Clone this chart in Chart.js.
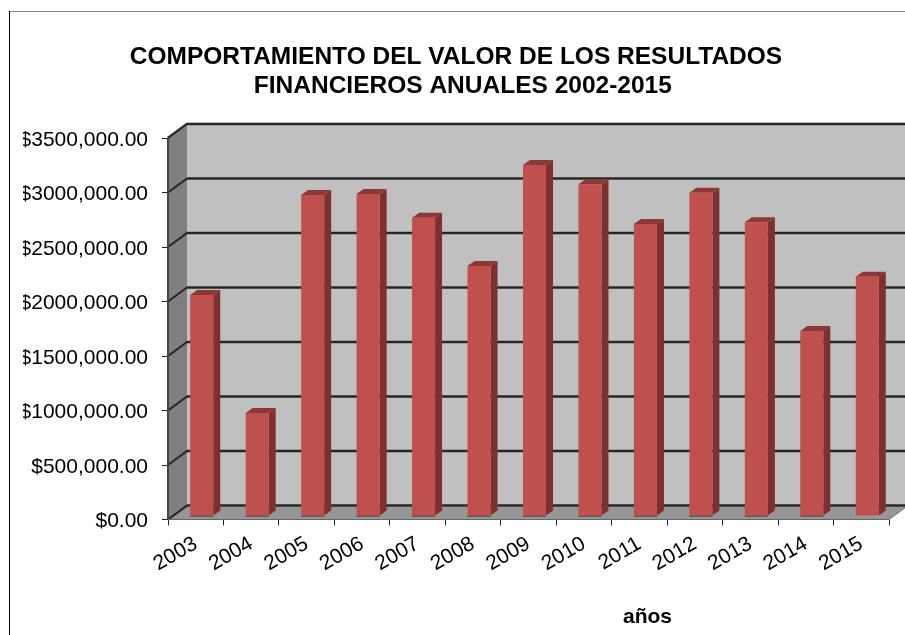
<!DOCTYPE html>
<html>
<head>
<meta charset="utf-8">
<title>Resultados financieros</title>
<style>
  html, body { margin: 0; padding: 0; background: #fff; }
  canvas { display: block; filter: blur(0.5px); }
</style>
<script src="https://cdn.jsdelivr.net/npm/chart.js@4/dist/chart.umd.min.js"></script>
</head>
<body>
<canvas id="myChart" width="905" height="635"></canvas>
<script>
const years = ['2003', '2004', '2005', '2006', '2007', '2008', '2009', '2010', '2011', '2012', '2013', '2014', '2015'];
const resultados = [2027000, 945000, 2945000, 2954000, 2737000, 2294000, 3220000, 3043000, 2679000, 2966000, 2694000, 1697000, 2195000];
const yTickLabels = ['$0.00', '$500,000.00', '$1000,000.00', '$1500,000.00', '$2000,000.00', '$2500,000.00', '$3000,000.00', '$3500,000.00'];
const titleLines = ['COMPORTAMIENTO DEL VALOR DE LOS RESULTADOS', '  FINANCIEROS ANUALES 2002-2015'];
const xTitle = 'años';

// depth of the fake 3d box and of the bars
const wallDx = 19, wallDy = 14;
const barShiftX = 6, barShiftY = 3.5;
const sideDx = 7, sideDy = 5;

function poly(ctx, pts, fill) {
  ctx.beginPath();
  pts.forEach((p, i) => i ? ctx.lineTo(p[0], p[1]) : ctx.moveTo(p[0], p[1]));
  ctx.closePath();
  ctx.fillStyle = fill;
  ctx.fill();
}

const box3d = {
  id: 'box3d',
  beforeDraw(chart) {
    // outer frame of the chart object
    const ctx = chart.ctx;
    ctx.save();
    ctx.fillStyle = '#888';
    ctx.fillRect(9, 11, 896, 1);
    ctx.fillStyle = '#000';
    ctx.fillRect(9, 11, 1, 624);
    ctx.restore();
  },
  beforeDatasetsDraw(chart) {
    const ctx = chart.ctx;
    const { left, right, top, bottom } = chart.chartArea;
    const y = chart.scales.y;

    ctx.save();
    poly(ctx, [[left + wallDx, top - wallDy], [right + wallDx, top - wallDy], [right + wallDx, bottom - wallDy], [left + wallDx, bottom - wallDy]], '#c0c0c0');
    poly(ctx, [[left, top], [left + wallDx, top - wallDy], [left + wallDx, bottom - wallDy], [left, bottom]], '#808080');
    poly(ctx, [[left, bottom], [left + wallDx, bottom - wallDy], [right + wallDx, bottom - wallDy], [right, bottom]], '#969696');

    // grid lines run along the side wall and across the back wall
    y.ticks.forEach(t => {
      const py = y.getPixelForValue(t.value);
      [['#777', 3.2], ['#262626', 1.8]].forEach(([color, w]) => {
        ctx.strokeStyle = color;
        ctx.lineWidth = w;
        ctx.beginPath();
        ctx.moveTo(left, py);
        ctx.lineTo(left + wallDx, py - wallDy);
        ctx.lineTo(right + wallDx, py - wallDy);
        ctx.stroke();
      });
    });
    ctx.strokeStyle = '#444';
    ctx.lineWidth = 2;
    ctx.beginPath();
    ctx.moveTo(left, top);
    ctx.lineTo(left, bottom);
    ctx.stroke();
    ctx.strokeStyle = '#666';
    ctx.lineWidth = 1;
    ctx.beginPath();
    ctx.moveTo(left, bottom);
    ctx.lineTo(right, bottom);
    ctx.lineTo(right + wallDx, bottom - wallDy);
    ctx.stroke();
    ctx.restore();

    // bars sit in the middle of the depth, restored in afterDatasetsDraw
    ctx.save();
    ctx.translate(barShiftX, -barShiftY);
    chart.getDatasetMeta(0).data.forEach((el, i) => {
      const l = el.x - el.width / 2, r = el.x + el.width / 2;
      poly(ctx, [[l, el.y], [l + sideDx, el.y - sideDy], [r + sideDx, el.y - sideDy], [r, el.y]], '#8c3836');
      poly(ctx, [[r, el.y], [r + sideDx, el.y - sideDy], [r + sideDx, el.base - sideDy], [r, el.base]], '#7d302e');
      if (i < resultados.length - 1) {
        ctx.fillStyle = '#3a1a1a';
        ctx.fillRect(l, el.base, el.width, 1);
      }
    });
  },
  afterDatasetsDraw(chart) {
    chart.ctx.restore();
  },
  afterDraw(chart) {
    // axis title sits right of the axis centre in the original
    const ctx = chart.ctx;
    ctx.save();
    ctx.font = 'bold 21px "Liberation Sans"';
    ctx.fillStyle = '#000';
    ctx.textAlign = 'center';
    ctx.textBaseline = 'middle';
    ctx.fillText(xTitle, 647.5, 617);
    ctx.restore();
  }
};

new Chart(document.getElementById('myChart'), {
  type: 'bar',
  data: {
    labels: years,
    datasets: [{
      data: resultados,
      backgroundColor: '#c0504d',
      barPercentage: 0.415,
      categoryPercentage: 1
    }]
  },
  options: {
    responsive: false,
    animation: false,
    layout: { padding: { left: 23, right: 16, top: 0, bottom: 0 } },
    plugins: {
      legend: { display: false },
      tooltip: { enabled: false },
      title: {
        display: true,
        text: titleLines,
        color: '#000',
        font: { family: '"Liberation Sans"', size: 24.5, weight: 'bold', lineHeight: 29 / 24.5 },
        padding: { top: 42.5, bottom: 37.5 }
      }
    },
    scales: {
      x: {
        afterFit(scale) { scale.height = 115.5; },
        border: { display: false },
        grid: { offset: true, drawOnChartArea: false, color: '#222', tickLength: 6, lineWidth: 1 },
        ticks: {
          color: '#000',
          font: { family: '"Liberation Sans"', size: 21 },
          autoSkip: false,
          minRotation: 30,
          maxRotation: 30,
          padding: 6
        }
      },
      y: {
        min: 0,
        max: 3500000,
        afterFit(scale) { scale.width = 145; },
        border: { display: false },
        grid: { drawOnChartArea: false, color: '#222', tickLength: 6, lineWidth: 1 },
        ticks: {
          stepSize: 500000,
          color: '#000',
          // small line height with an empty first line nudges labels 2px down, as in the original
          font: { family: '"Liberation Sans"', size: 21, lineHeight: 4.4 / 21 },
          padding: 14,
          callback: (v, i) => ['', yTickLabels[i]]
        }
      }
    }
  },
  plugins: [box3d]
});
</script>
</body>
</html>
